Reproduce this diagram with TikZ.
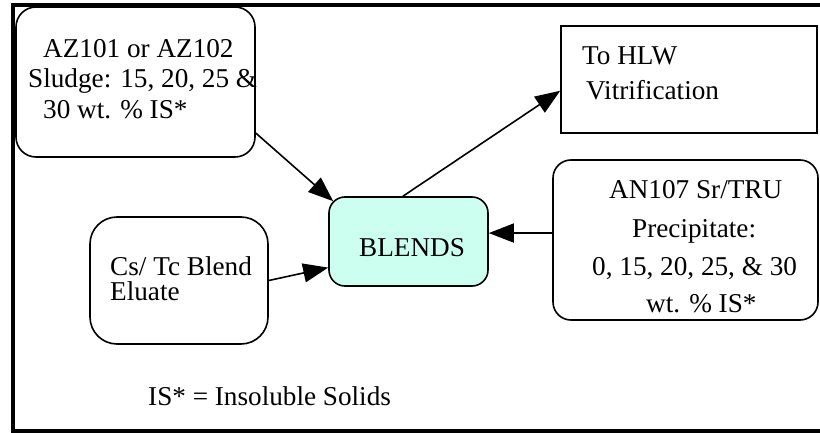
\documentclass[tikz,border=0pt]{standalone}
\usepackage{fontspec}
\setmainfont{Liberation Serif}
\usetikzlibrary{arrows.meta,calc}
\definecolor{blendfill}{RGB}{204,255,240}
\begin{document}
\begin{tikzpicture}[x=1pt,y=-1pt,
  boxline/.style={draw, line width=1.6pt, inner sep=0pt},
  rbox/.style={boxline, rounded corners=#1},
  txt/.style={anchor=base west, inner sep=0pt, font=\fontsize{27.2}{30}\selectfont},
  flow/.style={line width=1.6pt, -{Triangle[length=25pt,width=19pt]}}]
\useasboundingbox (0,0) rectangle (820,433);
% frame
\draw[line width=4pt] (822,5) -- (13,5) -- (13,431) -- (822,431);
% boxes
\node[rbox=20pt, minimum width=239pt, minimum height=150pt] (az) at (135.5,82) {};
\node[boxline, minimum width=256pt, minimum height=107pt] (hlw) at (689,79.5) {};
\node[rbox=18pt, minimum width=265pt, minimum height=160pt] (an) at (685.5,240) {};
\node[rbox=16pt, fill=blendfill, minimum width=159pt, minimum height=89pt] (bl) at (408.5,241.5) {};
\node[rbox=27pt, minimum width=178pt, minimum height=127pt] (cs) at (179,280.5) {};
% texts
\node[txt] (az1) at (43,58) {AZ101 or AZ102};
\node[txt] (az2) at (28,88) {Sludge: 15, 20, 25 \&};
\node[txt] (az3) at (43,119) {30 wt. \% IS*};
\node[txt] (hlw1) at (582,65) {To HLW};
\node[txt] (hlw2) at (586,100) {Vitrification};
\node[txt] (an1) at (609,199) {AN107 Sr/TRU};
\node[txt] (an2) at (632,237) {Precipitate:};
\node[txt] (an3) at (592,275) {0, 15, 20, 25, \& 30};
\node[txt] (an4) at (646,312) {wt. \% IS*};
\node[txt] (bl1) at (359,256) {BLENDS};
\node[txt] (cs1) at (110,275) {Cs/ Tc Blend};
\node[txt] (cs2) at (110,300) {Eluate};
\node[txt] (note) at (148,405) {IS* = Insoluble Solids};
% connectors
\draw[flow] (az.-23.5) -- ($(bl.north west)+(5,5)$);
\draw[flow] (bl.97) -- (hlw.185);
\draw[flow] (cs.east) -- (bl.198);
\draw[flow] (an.177) -- (bl.6);
\end{tikzpicture}
\end{document}
